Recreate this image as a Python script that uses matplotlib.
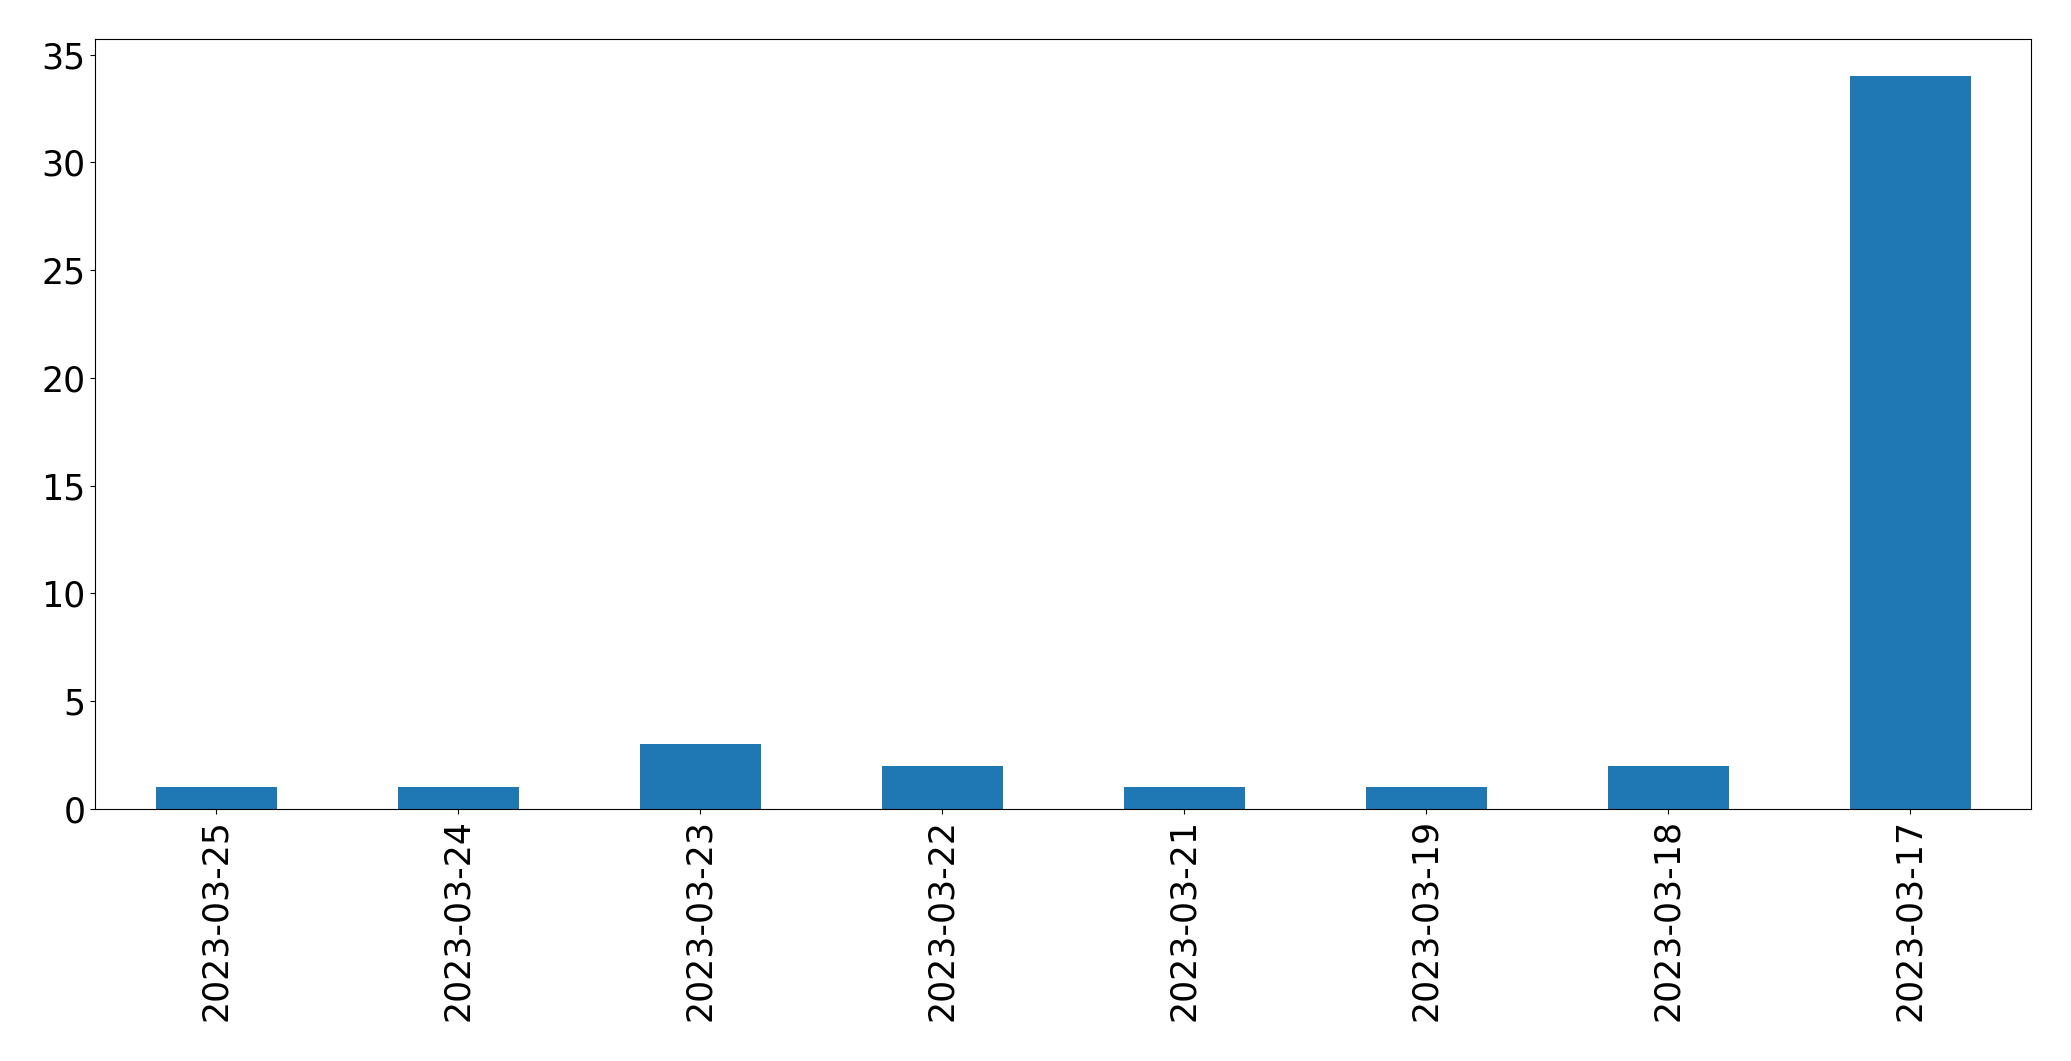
#! /usr/bin/env python3

import matplotlib
matplotlib.use('Agg')
import matplotlib.pyplot as plt

dates = ['2023-03-25', '2023-03-24', '2023-03-23', '2023-03-22',
         '2023-03-21', '2023-03-19', '2023-03-18', '2023-03-17']
counts = [1, 1, 3, 2, 1, 1, 2, 34]


def plot_data(labels, values):
    fig, ax = plt.subplots(figsize=(20.71, 10.61), dpi=100)
    fig.subplots_adjust(left=0.0459, right=0.9807, top=0.9628, bottom=0.2375)
    x = range(len(labels))
    ax.bar(x, values, width=0.5, color='#1f77b4')
    ax.set_xlim(-0.5, len(labels) - 0.5)
    ax.set_ylim(0, max(values) * 1.05)
    ax.set_xticks(list(x))
    ax.set_xticklabels(labels, rotation=90)
    ax.tick_params(axis='both', labelsize=25)
    fig.savefig('out.png', dpi=100)


if __name__ == "__main__":
    plot_data(dates, counts)
